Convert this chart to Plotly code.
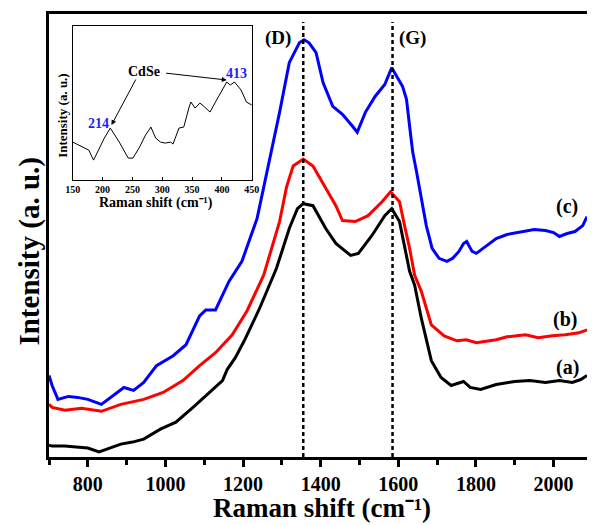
import plotly.graph_objects as go

# ---- Raman spectra (intensity in arbitrary units) ----
wn_a = [700, 708, 740, 774, 800, 829, 860, 885, 915, 944, 987, 1027, 1071, 1114, 1147, 1159,
        1180, 1203, 1243, 1286, 1319, 1340, 1355, 1380, 1413, 1439, 1477, 1497, 1532, 1565,
        1583, 1603, 1616, 1629, 1642, 1659, 1685, 1710, 1736, 1751, 1768, 1785, 1812, 1852,
        1900, 1939, 1979, 2015, 2048, 2070, 2086]
int_a = [12, 11, 11, 10, 9, 5, 9, 13, 15, 18, 28, 35, 50, 65, 77, 88,
         100, 117, 150, 190, 230, 250, 255, 253, 230, 215, 203, 205, 223, 243,
         250, 237, 213, 187, 173, 140, 97, 80, 72, 74, 76, 70, 68, 73,
         76, 77, 75, 77, 75, 78, 82]

wn_b = [700, 708, 741, 784, 835, 885, 944, 994, 1045, 1088, 1129, 1159, 1172, 1210, 1253,
        1294, 1312, 1329, 1355, 1380, 1413, 1439, 1456, 1489, 1522, 1558, 1580, 1603, 1616,
        1629, 1642, 1659, 1685, 1718, 1751, 1775, 1801, 1852, 1880, 1928, 1960, 1997, 2030,
        2065, 2086]
int_b = [53, 50, 47, 49, 46, 53, 58, 65, 77, 92, 105, 117, 123, 147, 183,
         237, 272, 293, 300, 293, 270, 253, 238, 237, 243, 257, 267, 257, 233,
         210, 183, 167, 133, 122, 117, 118, 115, 118, 121, 123, 120, 122, 123,
         125, 128]

wn_c = [700, 708, 723, 750, 774, 800, 835, 860, 893, 918, 944, 977, 1020, 1053, 1088, 1104,
        1129, 1164, 1197, 1236, 1269, 1294, 1319, 1345, 1357, 1370, 1388, 1406, 1431, 1456,
        1482, 1494, 1515, 1540, 1565, 1583, 1611, 1621, 1629, 1637, 1647, 1659, 1672, 1687,
        1705, 1725, 1740, 1756, 1768, 1776, 1790, 1801, 1825, 1852, 1880, 1921, 1950, 1979,
        2000, 2015, 2035, 2055, 2075, 2086]
int_c = [82, 72, 58, 61, 60, 58, 53, 60, 70, 67, 75, 92, 102, 113, 142, 148,
         148, 177, 197, 240, 300, 347, 397, 417, 420, 417, 407, 377, 353, 345,
         333, 327, 347, 363, 375, 392, 373, 360, 333, 307, 287, 260, 233, 210,
         200, 197, 200, 207, 215, 217, 207, 205, 212, 220, 224, 227, 229, 228,
         226, 222, 225, 227, 233, 242]

# ---- inset: low-wavenumber CdSe region ----
wn_in = [150, 168, 177, 185, 193, 203, 213, 220, 229, 243, 251, 262, 272, 281, 289, 297,
         305, 314, 318, 328, 336, 345, 348, 355, 363, 371, 380, 391, 400, 408, 414, 421,
         432, 441, 450]
int_in = [38, 33, 30, 20, 30, 42, 52, 46, 37, 22, 22, 33, 45, 53, 42, 38,
          37, 38, 36, 52, 53, 73, 78, 72, 77, 73, 68, 80, 90, 98, 95, 98,
          90, 78, 75]

d_band, g_band = 1355, 1585
cdse_peaks = [214, 413]

FONT = "Liberation Serif"

fig = go.Figure()
for wn, inten, col in [(wn_a, int_a, "#000000"), (wn_b, int_b, "#ff0000"), (wn_c, int_c, "#0000ff")]:
    fig.add_trace(go.Scatter(x=wn, y=inten, mode="lines", line=dict(color=col, width=3),
                             showlegend=False, xaxis="x", yaxis="y"))

fig.add_trace(go.Scatter(x=wn_in, y=int_in, mode="lines", line=dict(color="#000000", width=1),
                         showlegend=False, xaxis="x2", yaxis="y2"))

# band positions
for b in [d_band, g_band]:
    fig.add_shape(type="line", xref="x", yref="paper", x0=b, x1=b, y0=0, y1=0.982,
                  line=dict(color="black", width=2.5, dash="4px,3px"))

# inset background
fig.add_shape(type="rect", xref="paper", yref="paper", x0=0.044, x1=0.377, y0=0.625, y1=0.973,
              fillcolor="white", line=dict(width=0), layer="below")

ann = []
def label(text, x, y, size, color="black", xref="x", yref="y", angle=0, yanchor="middle"):
    ann.append(dict(text=text, x=x, y=y, xref=xref, yref=yref, showarrow=False,
                    textangle=angle, xanchor="center", yanchor=yanchor,
                    font=dict(family=FONT, size=size, color=color, weight="bold")))

label("(D)", 1291, 422, 19)
label("(G)", 1637, 422, 19)
label("(c)", 2035, 252, 20)
label("(b)", 2030, 138, 20)
label("(a)", 2035, 90, 20)

# axis titles
label("Raman shift (cm⁻¹)", 0.507, -0.1535, 27, xref="paper", yref="paper", yanchor="bottom")
label("Intensity (a. u.)", -0.038, 0.465, 29, xref="paper", yref="paper", angle=-90)

# inset texts
label("Raman shift (cm⁻¹)", 0.1996, 0.573, 14, xref="paper", yref="paper")
label("Intensity (a. u.)", 0.0238, 0.772, 13, xref="paper", yref="paper", angle=-90)
label("CdSe", 270, 109, 14, xref="x2", yref="y2")
label(str(cdse_peaks[0]), 193, 57, 14, color="#1f1fff", xref="x2", yref="y2")
label(str(cdse_peaks[1]), 424, 107, 14, color="#1f1fff", xref="x2", yref="y2")

for (hx, hy, tx, ty) in [(cdse_peaks[0] + 1, 55, 257, 102), (cdse_peaks[1] - 5, 100, 304, 107)]:
    ann.append(dict(x=hx, y=hy, ax=tx, ay=ty, xref="x2", yref="y2", axref="x2", ayref="y2",
                    text="", showarrow=True, arrowhead=2, arrowsize=1, arrowwidth=1,
                    arrowcolor="black"))

fig.update_layout(
    width=595, height=525,
    margin=dict(l=49, r=0, t=14, b=68),
    paper_bgcolor="white", plot_bgcolor="white",
    annotations=ann,
    xaxis=dict(range=[700, 2086], tickvals=list(range(800, 2001, 200)),
               ticks="outside", ticklen=7, tickwidth=3, tickcolor="black",
               minor=dict(tickvals=list(range(700, 2001, 200)), ticks="outside",
                          ticklen=5, tickwidth=3, tickcolor="black"),
               showline=True, linecolor="black", linewidth=3, mirror=True,
               showgrid=False, zeroline=False,
               tickfont=dict(family=FONT, size=20, color="black", weight="bold")),
    yaxis=dict(range=[0, 446], showticklabels=False, ticks="", showgrid=False,
               zeroline=False, showline=True, linecolor="black", linewidth=3, mirror=False),
    xaxis2=dict(domain=[0.044, 0.377], anchor="y2", range=[150, 450],
                tickvals=list(range(150, 451, 50)), ticks="inside", ticklen=3,
                tickcolor="black", showline=True, linecolor="black", linewidth=1,
                mirror=True, showgrid=False, zeroline=False,
                tickfont=dict(family=FONT, size=10, color="black", weight="bold")),
    yaxis2=dict(domain=[0.625, 0.973], anchor="x2", range=[0, 154],
                showticklabels=False, ticks="", showline=True, linecolor="black",
                linewidth=1, mirror=True, showgrid=False, zeroline=False),
)

fig.write_html("out.html")
